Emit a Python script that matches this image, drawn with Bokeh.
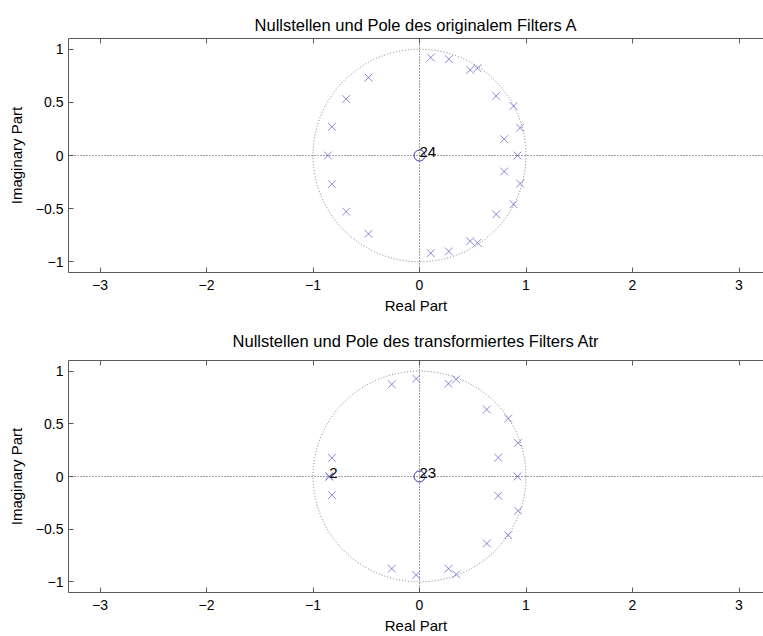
from collections import Counter

from bokeh.plotting import figure
from bokeh.layouts import column
from bokeh.models import LinearAxis, Span, FixedTicker, Range1d, ColumnDataSource
from bokeh.core.properties import value
from bokeh.embed import file_html
from bokeh.resources import INLINE

# ---------------- data ----------------
title_a = "Nullstellen und Pole des originalem Filters A"
title_b = "Nullstellen und Pole des transformiertes Filters Atr"
x_label = "Real Part"
y_label = "Imaginary Part"

x_ticks = [-3, -2, -1, 0, 1, 2, 3]
x_tick_labels = ["\u22123", "\u22122", "\u22121", "0", "1", "2", "3"]
y_ticks = [-1, -0.5, 0, 0.5, 1]
y_tick_labels = ["\u22121", "\u22120.5", "0", "0.5", "1"]

# filter A
poles_a_re = [0.106, 0.275, 0.476, 0.545, 0.720, 0.883, 0.945, 0.795, 0.920,
              0.795, 0.945, 0.883, 0.720, 0.476, 0.545, 0.106, 0.275,
              -0.479, -0.689, -0.823, -0.861, -0.823, -0.689, -0.479]
poles_a_im = [0.921, 0.906, 0.805, 0.821, 0.560, 0.465, 0.261, 0.154, 0.0,
              -0.151, -0.264, -0.459, -0.553, -0.805, -0.821, -0.918, -0.902,
              0.733, 0.531, 0.270, 0.0, -0.270, -0.528, -0.736]
zeros_a_re = [0.0]
zeros_a_im = [0.0]
zeros_a_mult = [24]

# filter Atr
poles_b_re = [-0.031, -0.260, 0.272, 0.344, 0.632, 0.833, 0.926, 0.739, 0.920,
              0.739, 0.926, 0.833, 0.632, 0.272, 0.344, -0.031, -0.260,
              -0.823, -0.823, -0.848, -0.848]
poles_b_im = [0.928, 0.874, 0.880, 0.921, 0.635, 0.550, 0.318, 0.179, 0.0,
              -0.182, -0.324, -0.557, -0.635, -0.874, -0.928, -0.934, -0.874,
              0.176, -0.176, 0.0, 0.0]
zeros_b_re = [0.0]
zeros_b_im = [0.0]
zeros_b_mult = [23]

# ---------------- style ----------------
FONT = "Liberation Sans"
AXIS_COLOR = "#5a5a5a"
POLE_COLOR = "#2a2ac8"
ZERO_COLOR = "#3030a8"


def make_panel(title, pr, pi, zr, zi, zm, height, top, bottom, title_standoff):
    p = figure(width=763, height=height, output_backend="svg", toolbar_location=None,
               x_range=Range1d(-3.296, 3.230), y_range=Range1d(-1.1, 1.1),
               x_axis_location=None, y_axis_location=None,
               min_border_left=68, min_border_right=0,
               min_border_top=top, min_border_bottom=bottom)
    p.xgrid.visible = False
    p.ygrid.visible = False
    p.outline_line_color = None
    p.background_fill_color = "white"
    p.border_fill_color = "white"

    p.title.text = title
    p.title.align = "center"
    p.title.text_font = FONT
    p.title.text_font_size = "16.5px"
    p.title.text_font_style = "normal"
    p.title.text_color = "black"
    p.title.standoff = title_standoff

    def style(ax):
        ax.axis_line_color = AXIS_COLOR
        ax.major_tick_line_color = AXIS_COLOR
        ax.major_tick_in = 5
        ax.major_tick_out = 0
        ax.minor_tick_line_color = None
        ax.major_label_text_font = FONT
        ax.major_label_text_font_size = "14px"
        ax.major_label_text_color = "black"
        ax.axis_label_text_font = FONT
        ax.axis_label_text_font_size = "15px"
        ax.axis_label_text_font_style = "normal"
        ax.axis_label_text_color = "black"

    below = LinearAxis(ticker=FixedTicker(ticks=x_ticks),
                       major_label_overrides=dict(zip(x_ticks, x_tick_labels)),
                       axis_label=x_label)
    style(below)
    below.major_label_standoff = 7
    below.axis_label_standoff = 4
    p.add_layout(below, "below")

    above = LinearAxis(ticker=FixedTicker(ticks=x_ticks),
                       major_label_overrides={t: "" for t in x_ticks})
    style(above)
    above.major_label_standoff = 0
    p.add_layout(above, "above")

    left = LinearAxis(ticker=FixedTicker(ticks=y_ticks),
                      major_label_overrides=dict(zip(y_ticks, y_tick_labels)),
                      axis_label=y_label)
    style(left)
    left.major_label_standoff = 5
    left.axis_label_standoff = 8
    p.add_layout(left, "left")

    # unit circle and axis lines
    p.ellipse(x=[0], y=[0], width=2, height=2, fill_color=None,
              line_color="#7a7a7a", line_dash="1 2", line_width=1)
    p.add_layout(Span(location=0, dimension="width", line_color="#444444",
                      line_dash="1 2", line_width=1))
    p.add_layout(Span(location=0, dimension="height", line_color="#444444",
                      line_dash="1 2", line_width=1))

    # zeros
    p.scatter(x=zr, y=zi, marker="circle", size=11, fill_color=None,
              line_color=ZERO_COLOR, line_width=1)
    zsrc = ColumnDataSource(dict(x=zr, y=zi, t=[str(m) for m in zm]))
    p.text(x="x", y="y", text="t", source=zsrc, text_font=value(FONT),
           text_font_size="15px", text_color="black", text_align="left",
           text_baseline="alphabetic", y_offset=-4, x_offset=0)

    # poles
    p.scatter(x=pr, y=pi, marker="x", size=11, line_color=POLE_COLOR,
              line_alpha=0.55, line_width=1)
    cnt = Counter(zip(pr, pi))
    multi = [(k, v) for k, v in cnt.items() if v > 1]
    if multi:
        psrc = ColumnDataSource(dict(x=[k[0] for k, v in multi], y=[k[1] for k, v in multi],
                                     t=[str(v) for k, v in multi]))
        p.text(x="x", y="y", text="t", source=psrc, text_font=value(FONT),
               text_font_size="15px", text_color="black", text_align="left",
               text_baseline="alphabetic", y_offset=-4, x_offset=0)
    return p


p1 = make_panel(title_a, poles_a_re, poles_a_im, zeros_a_re, zeros_a_im, zeros_a_mult,
                height=318, top=38, bottom=46, title_standoff=10)
p2 = make_panel(title_b, poles_b_re, poles_b_im, zeros_b_re, zeros_b_im, zeros_b_mult,
                height=318, top=40, bottom=44, title_standoff=22)

layout = column(p1, p2, spacing=0)
open("out.html", "w").write(file_html(layout, INLINE))
